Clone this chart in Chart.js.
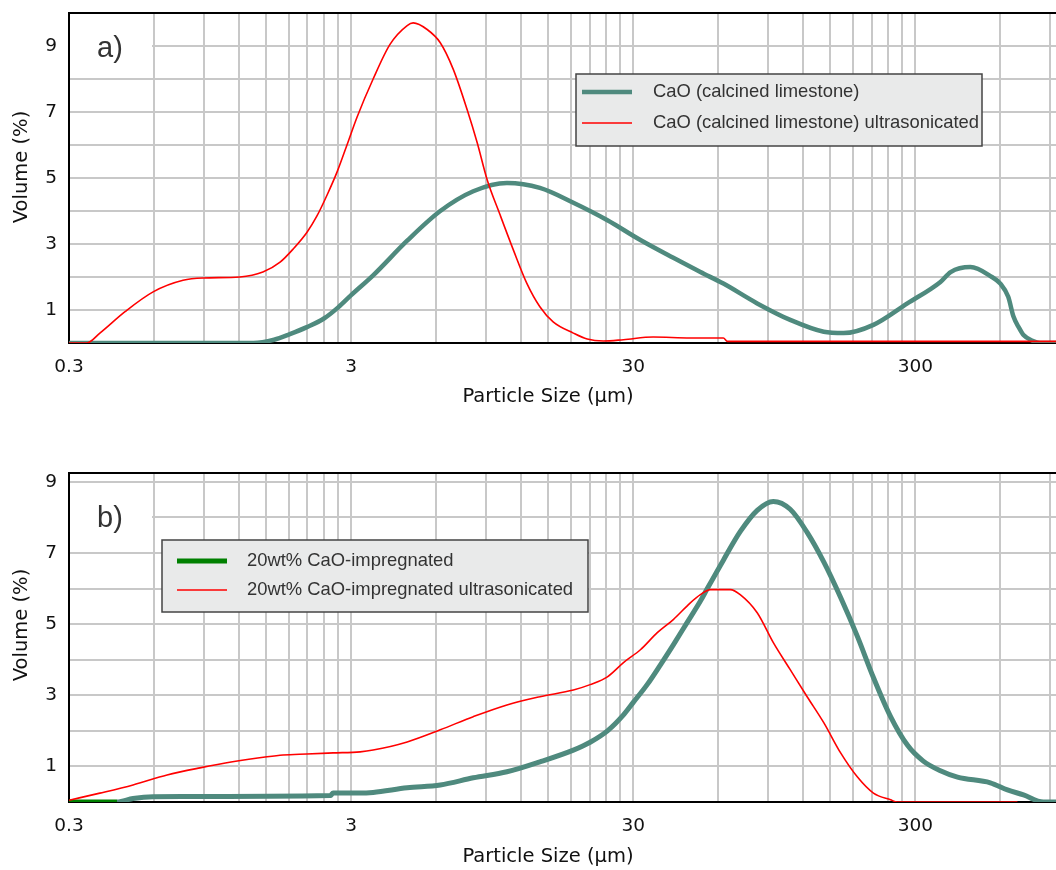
<!DOCTYPE html>
<html>
<head>
<meta charset="utf-8">
<script src="https://cdn.jsdelivr.net/npm/chart.js@4.4.1/dist/chart.umd.min.js"></script>
<style>
  html, body { margin: 0; padding: 0; background: #fff; overflow: hidden; width: 1056px; height: 870px; position: relative; }
  canvas { display: block; position: absolute; left: 0; }
  #chartA { top: -25px; }
  #chartB { top: 435px; }
</style>
</head>
<body>
<canvas id="chartA" width="1063" height="460"></canvas>
<canvas id="chartB" width="1063" height="435"></canvas>
<script>
// particle size (µm) / volume (%)

// a) CaO (calcined limestone)
const sizeA1 = [0.3, 1.35, 1.6, 1.81, 2.09, 2.41, 2.7, 3.0, 3.59, 4.74, 6.21, 8.13, 10.7, 14.0, 18.4, 24.3, 31.8, 41.6, 51.9, 62.6, 82.5, 108, 142, 167, 213, 281, 368, 400, 470, 560, 600, 640, 668, 700, 725, 780, 830, 950];
const volA1 = [0, 0, 0.1, 0.26, 0.48, 0.75, 1.08, 1.45, 2.05, 3.1, 4.0, 4.6, 4.85, 4.7, 4.25, 3.72, 3.12, 2.58, 2.15, 1.8, 1.2, 0.7, 0.34, 0.3, 0.55, 1.2, 1.85, 2.15, 2.3, 2.0, 1.8, 1.4, 0.8, 0.45, 0.24, 0.07, 0, 0];

// a) CaO (calcined limestone) ultrasonicated
const sizeA2 = [0.3, 0.347, 0.386, 0.474, 0.596, 0.761, 0.896, 1.21, 1.46, 1.68, 1.87, 2.09, 2.27, 2.47, 2.68, 2.9, 3.15, 3.59, 4.12, 4.74, 4.98, 5.58, 6.21, 6.9, 7.74, 8.4, 9.11, 10.1, 11.3, 12.6, 14.0, 15.6, 18.4, 20.6, 23.5, 27.7, 35.3, 47.8, 62.6, 64.7, 950];
const volA2 = [0, 0, 0.3, 0.95, 1.55, 1.9, 1.97, 2.0, 2.15, 2.45, 2.85, 3.35, 3.85, 4.5, 5.2, 6.0, 6.85, 8.0, 9.05, 9.62, 9.7, 9.5, 9.1, 8.3, 7.06, 6.06, 4.94, 3.9, 2.8, 1.8, 1.1, 0.64, 0.3, 0.12, 0.06, 0.1, 0.18, 0.15, 0.15, 0.05, 0.05];

// b) 20wt% CaO-impregnated
const sizeB1 = [0.3, 0.444, 0.506, 0.596, 2.53, 2.59, 3.23, 3.59, 4.74, 6.21, 8.13, 10.7, 14.0, 18.4, 21.1, 24.3, 27.7, 30, 33.6, 37.4, 41.6, 46.6, 51.9, 54.9, 62.6, 71.8, 82.5, 94.1, 108, 124, 142, 163, 187, 213, 245, 281, 320, 368, 423, 553, 636, 725, 853, 950];
const volB1 = [0, 0, 0.1, 0.15, 0.18, 0.25, 0.25, 0.27, 0.4, 0.48, 0.68, 0.85, 1.13, 1.46, 1.68, 2.0, 2.45, 2.8, 3.3, 3.85, 4.42, 5.05, 5.65, 6.0, 6.8, 7.6, 8.2, 8.45, 8.23, 7.58, 6.75, 5.75, 4.65, 3.5, 2.4, 1.6, 1.15, 0.88, 0.7, 0.54, 0.34, 0.2, 0, 0];

// b) 20wt% CaO-impregnated ultrasonicated
const sizeB2 = [0.3, 0.386, 0.506, 0.668, 0.874, 1.14, 1.51, 1.72, 2.09, 2.59, 3.23, 3.59, 4.74, 6.21, 8.13, 10.7, 14.0, 18.4, 21.1, 24.3, 27.7, 31.8, 36.5, 41.6, 47.8, 51.9, 56.3, 66.2, 71.8, 82.5, 94.1, 108, 124, 142, 163, 187, 213, 245, 259, 690];
const volB2 = [0.05, 0.25, 0.48, 0.76, 0.96, 1.13, 1.27, 1.32, 1.35, 1.38, 1.41, 1.46, 1.69, 2.03, 2.4, 2.73, 2.96, 3.15, 3.3, 3.52, 3.92, 4.28, 4.76, 5.13, 5.6, 5.83, 5.97, 5.97, 5.83, 5.32, 4.48, 3.72, 2.96, 2.23, 1.38, 0.7, 0.25, 0.06, 0, 0];

// axes
const xGrid = [0.3, 0.6, 0.9, 1.2, 1.5, 1.8, 2.1, 2.4, 2.7, 3, 6, 9, 12, 15, 18, 21, 24, 27, 30, 60, 90, 120, 150, 180, 210, 240, 270, 300, 600, 900];
const xLabels = [0.3, 3, 30, 300];
const yGridA = [0, 1, 2, 3, 4, 5, 6, 7, 8, 9, 10];
const yGridB = [0, 1, 2, 3, 4, 5, 6, 7, 8, 9];
const yLabels = [1, 3, 5, 7, 9];

const TEAL = '#4f8a7e';
const RED = '#ff0000';
const GREEN = '#008000';
const tickFont = { family: 'DejaVu Sans', size: 18.5 };

const pts = (xs, ys) => xs.map((x, i) => ({ x: x, y: ys[i] }));

// axis titles, white tag box with "a)"/"b)", boxed legend, top frame line
// plugin coordinates are page coordinates; dy moves them into the canvas
const decor = {
  id: 'decor',
  beforeDatasetsDraw(chart, args, o) {
    const ctx = chart.ctx, dy = o.dy;
    ctx.save();
    ctx.fillStyle = '#fff';
    ctx.fillRect(o.tag.box[0], o.tag.box[1] + dy, o.tag.box[2], o.tag.box[3]);
    ctx.fillStyle = '#333';
    ctx.font = '29px "Liberation Sans", Arial, sans-serif';
    ctx.textBaseline = 'middle';
    ctx.fillText(o.tag.text, o.tag.x, o.tag.y + dy);

    ctx.fillStyle = '#111';
    ctx.font = '19.5px "DejaVu Sans"';
    ctx.textAlign = 'center';
    ctx.fillText('Particle Size (µm)', o.xTitle[0], o.xTitle[1] + dy);
    ctx.translate(o.yTitle[0], o.yTitle[1] + dy);
    ctx.rotate(-Math.PI / 2);
    ctx.fillText('Volume (%)', 0, 0);
    ctx.restore();
  },
  afterDatasetsDraw(chart, args, o) {
    const ctx = chart.ctx, area = chart.chartArea, dy = o.dy;
    const lg = o.legend;
    ctx.save();
    ctx.fillStyle = '#e9eaea';
    ctx.strokeStyle = '#444';
    ctx.lineWidth = 1.5;
    ctx.fillRect(lg.box[0], lg.box[1] + dy, lg.box[2], lg.box[3]);
    ctx.strokeRect(lg.box[0], lg.box[1] + dy, lg.box[2], lg.box[3]);
    ctx.font = '18.4px "Liberation Sans", Arial, sans-serif';
    ctx.textBaseline = 'middle';
    lg.items.forEach(it => {
      ctx.strokeStyle = it.color;
      ctx.lineWidth = it.width;
      ctx.beginPath();
      ctx.moveTo(lg.lineX[0], it.y + dy);
      ctx.lineTo(lg.lineX[1], it.y + dy);
      ctx.stroke();
      ctx.fillStyle = '#333';
      ctx.fillText(it.text, lg.textX, it.y + dy);
    });
    ctx.strokeStyle = '#000';
    ctx.lineWidth = 2;
    ctx.beginPath();
    ctx.moveTo(area.left - 1, area.top);
    ctx.lineTo(area.right + 10, area.top);
    ctx.stroke();
    ctx.restore();
  }
};

function scales(yMax, yGrid, xHeight) {
  return {
    x: {
      type: 'logarithmic',
      min: 0.3,
      max: 950,
      afterFit: s => { s.height = xHeight; },
      afterBuildTicks: s => { s.ticks = xGrid.map(v => ({ value: v })); },
      ticks: {
        autoSkip: false,
        maxRotation: 0,
        padding: 13,
        color: '#111',
        font: tickFont,
        callback: v => {
          const r = Number(Number(v).toPrecision(3));
          return xLabels.includes(r) ? String(r) : '';
        }
      },
      grid: { color: '#c8c8c8', lineWidth: 2, drawTicks: false },
      border: { color: '#000', width: 2 }
    },
    y: {
      min: 0,
      max: yMax,
      afterFit: s => { s.width = 69; },
      afterBuildTicks: s => { s.ticks = yGrid.map(v => ({ value: v })); },
      ticks: {
        padding: 12,
        color: '#111',
        font: tickFont,
        callback: v => yLabels.includes(v) ? String(v) : ''
      },
      grid: { color: '#c8c8c8', lineWidth: 2, drawTicks: false },
      border: { color: '#000', width: 2 }
    }
  };
}

new Chart(document.getElementById('chartA'), {
  type: 'line',
  data: {
    datasets: [
      {
        label: 'CaO (calcined limestone) ultrasonicated',
        data: pts(sizeA2, volA2),
        borderColor: RED,
        borderWidth: 1.6,
        pointRadius: 0,
        cubicInterpolationMode: 'monotone'
      },
      {
        label: 'CaO (calcined limestone)',
        data: pts(sizeA1, volA1),
        borderColor: TEAL,
        borderWidth: 4.5,
        pointRadius: 0,
        cubicInterpolationMode: 'monotone'
      }
    ]
  },
  options: {
    responsive: false,
    animation: false,
    layout: { padding: { top: 38, right: 0, left: 0, bottom: 0 } },
    scales: scales(10, yGridA, 92),
    plugins: {
      legend: { display: false },
      tooltip: { enabled: false },
      decor: {
        dy: 25,
        xTitle: [548, 397],
        yTitle: [22, 167],
        tag: { text: 'a)', x: 97, y: 49, box: [70, 14, 82, 63] },
        legend: {
          box: [576, 74, 406, 72],
          lineX: [582, 632],
          textX: 653,
          items: [
            { text: 'CaO (calcined limestone)', color: TEAL, width: 4.5, y: 92 },
            { text: 'CaO (calcined limestone) ultrasonicated', color: RED, width: 1.6, y: 123 }
          ]
        }
      }
    }
  },
  plugins: [decor]
});

new Chart(document.getElementById('chartB'), {
  type: 'line',
  data: {
    datasets: [
      {
        label: '20wt% CaO-impregnated ultrasonicated',
        data: pts(sizeB2, volB2),
        borderColor: RED,
        borderWidth: 1.6,
        pointRadius: 0,
        cubicInterpolationMode: 'monotone'
      },
      {
        label: '20wt% CaO-impregnated',
        data: pts(sizeB1, volB1),
        borderColor: TEAL,
        borderWidth: 5,
        pointRadius: 0,
        cubicInterpolationMode: 'monotone',
        segment: { borderColor: c => c.p1.parsed.x <= 0.45 ? GREEN : TEAL }
      }
    ]
  },
  options: {
    responsive: false,
    animation: false,
    layout: { padding: { top: 38, right: 0, left: 0, bottom: 0 } },
    scales: scales(9.25, yGridB, 68),
    plugins: {
      legend: { display: false },
      tooltip: { enabled: false },
      decor: {
        dy: -435,
        xTitle: [548, 857],
        yTitle: [22, 625],
        tag: { text: 'b)', x: 97, y: 519, box: [70, 484, 82, 66] },
        legend: {
          box: [162, 540, 426, 72],
          lineX: [177, 227],
          textX: 247,
          items: [
            { text: '20wt% CaO-impregnated', color: GREEN, width: 5, y: 561 },
            { text: '20wt% CaO-impregnated ultrasonicated', color: RED, width: 1.6, y: 590 }
          ]
        }
      }
    }
  },
  plugins: [decor]
});
</script>
</body>
</html>
